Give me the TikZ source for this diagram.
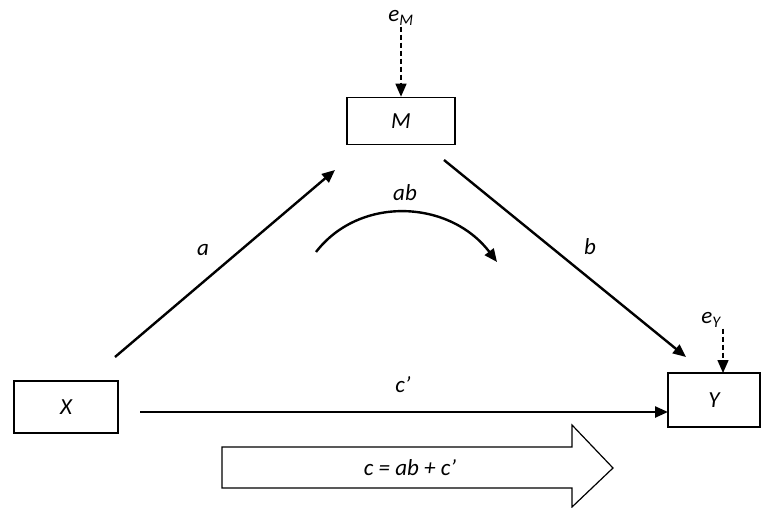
\documentclass[tikz,border=0pt]{standalone}
\usepackage{fontspec}
\setmainfont{Carlito}
\usetikzlibrary{arrows.meta}
\begin{document}
\begin{tikzpicture}[x=1pt,y=-1pt]
\tikzstyle{var}=[rectangle, draw=black, line width=1.6pt, inner sep=0pt, font=\fontsize{23}{27}\selectfont\itshape]
\tikzstyle{lbl}=[inner sep=1pt, font=\fontsize{23}{27}\selectfont\itshape]
\tikzstyle{path}=[line width=2.4pt, -{Triangle[length=13pt,width=11pt]}]
\tikzstyle{err}=[line width=1.5pt, dash pattern=on 5pt off 3pt, -{Triangle[length=13pt,width=11pt]}]
\useasboundingbox (0,0) rectangle (763,508);

% Variables
\node[var, minimum width=104pt, minimum height=52pt] (x) at (66,407) {X};
\node[var, minimum width=108pt, minimum height=47pt] (m) at (401,121) {M};
\node[var, minimum width=92pt, minimum height=54pt] (y) at (714,400) {Y};

% Error terms
\node[lbl] (em) at (401,18) {e\textsubscript{M}};
\node[lbl] (ey) at (711,320) {e\textsubscript{Y}};
\coordinate (eyin) at (723,373);

% Path labels
\node[lbl] (la) at (203,250) {a};
\node[lbl] (lb) at (590,247) {b};
\node[lbl] (lab) at (405,193) {ab};
\node[lbl] (lc) at (403,385) {c’};

% Paths
\coordinate (xout) at (115,357);
\coordinate (min) at (335,170);
\coordinate (mout) at (444,160);
\coordinate (yin) at (686,357);
\coordinate (cstart) at (140,412);
\coordinate (cend) at (668,412);
\draw[path] (xout) -- (min);
\draw[path] (mout) -- (yin);
\draw[path] (cstart) -- (cend);
\draw[err] (em) -- (m);
\draw[err] (ey.south -| eyin) -- (eyin);

% Indirect effect
\coordinate (ab1) at (316,252);
\coordinate (ab2) at (497,262);
\draw[path] (ab1) .. controls (360,195) and (450,200) .. (ab2);

% Total effect
\draw[line width=1.2pt, line join=miter] (222,447) -- (572,447) -- (572,425) -- (613,468)
  -- (572,507) -- (572,488) -- (222,488) -- cycle;
\node[lbl] (total) at (410,468) {c = ab + c’};
\end{tikzpicture}
\end{document}
